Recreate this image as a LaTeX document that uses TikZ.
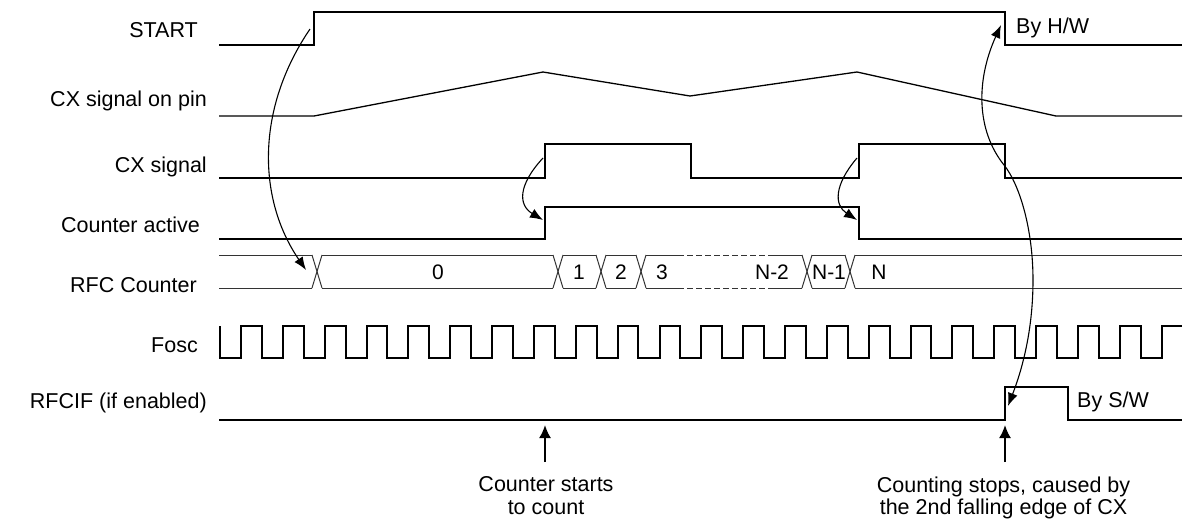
\documentclass[tikz,border=0pt]{standalone}
\usepackage{fontspec}
\setmainfont{Liberation Sans}
\usetikzlibrary{arrows.meta}
\begin{document}
\begin{tikzpicture}[x=1pt,y=-1pt,
  sig/.style={line width=2.2pt, line join=miter},
  pin/.style={line width=1.3pt},
  clk/.style={line width=2pt, line join=miter},
  bus/.style={line width=1pt, black!80},
  busdash/.style={bus, dash pattern=on 6pt off 3pt},
  curvearrow/.style={line width=1.1pt, -{Latex[length=13pt,width=10pt]}},
  dblarrow/.style={line width=1.1pt, {Latex[length=13pt,width=10pt]}-{Latex[length=13pt,width=10pt]}},
  uparrow/.style={line width=2pt, -{Latex[length=13pt,width=12pt]}},
  lbl/.style={anchor=base east, inner sep=0pt, font=\fontsize{21.5}{24}\selectfont},
  txt/.style={anchor=base west, inner sep=0pt, font=\fontsize{21.5}{24}\selectfont},
  ctxt/.style={anchor=base, inner sep=0pt, font=\fontsize{21.5}{24}\selectfont},
  val/.style={anchor=base, inner sep=0pt, font=\fontsize{21}{24}\selectfont}
]
\useasboundingbox (0,0) rectangle (1183,520);

% ---- labels ----
\node[lbl] (lstart) at (198,37) {START};
\node[lbl] (lpin) at (207,106) {CX signal on pin};
\node[lbl] (lcx) at (207,172) {CX signal};
\node[lbl] (lact) at (200,232) {Counter active};
\node[lbl] (lrfc) at (197,292) {RFC Counter};
\node[lbl] (lfosc) at (198,352) {Fosc};
\node[lbl] (lif) at (207,408) {RFCIF (if enabled)};

% ---- START ----
\draw[sig] (219,45) -- (314,45) -- (314,12) -- (1005,12) -- (1005,45) -- (1182,45);
\node[txt] (hw) at (1016,33) {By H/W};

% ---- CX signal on pin ----
\draw[pin] (219,116) -- (314,116) -- (543,72) -- (690,96) -- (857,72) -- (1056,116) -- (1182,116);

% ---- CX signal ----
\draw[sig] (219,178) -- (545,178) -- (545,144) -- (691,144) -- (691,178) -- (859,178) -- (859,144) -- (1005,144) -- (1005,178) -- (1182,178);

% ---- Counter active ----
\draw[sig] (219,239) -- (545,239) -- (545,207) -- (859,207) -- (859,239) -- (1182,239);

% ---- RFC Counter bus ----
\foreach \c in {317,558,601,641,807,850}{
  \draw[bus] (\c-5,255) -- (\c+5,288);
  \draw[bus] (\c-5,288) -- (\c+5,255);
}
\foreach \y in {255,288}{
  \draw[bus] (219,\y) -- (312,\y);
  \draw[bus] (322,\y) -- (553,\y);
  \draw[bus] (563,\y) -- (596,\y);
  \draw[bus] (606,\y) -- (636,\y);
  \draw[bus] (646,\y) -- (678,\y);
  \draw[busdash] (678,\y) -- (770,\y);
  \draw[bus] (770,\y) -- (802,\y);
  \draw[bus] (812,\y) -- (845,\y);
  \draw[bus] (855,\y) -- (1182,\y);
}
\node[val] (v0) at (438,279) {0};
\node[val] (v1) at (579,279) {1};
\node[val] (v2) at (621,279) {2};
\node[val] (v3) at (662,279) {3};
\node[val] (vn2) at (772,279) {N-2};
\node[val] (vn1) at (829,279) {N-1};
\node[val] (vn) at (879,279) {N};

% ---- Fosc ----
\draw[clk] (220,326) -- (220,358)
  \foreach \k in {0,...,21}{ -- ({241+41.85*\k},358) -- ({241+41.85*\k},326) -- ({261.8+41.85*\k},326) -- ({261.8+41.85*\k},358) }
  -- (1161.7,358) -- (1161.7,326) -- (1182,326);

% ---- RFCIF ----
\draw[sig] (219,420) -- (1005,420) -- (1005,387) -- (1068,387) -- (1068,420) -- (1182,420);
\node[txt] (sw) at (1077,407) {By S/W};

% ---- causal arrows ----
\coordinate (a1s) at (310,29);
\coordinate (a1e) at (306,270);
\draw[curvearrow] (a1s) .. controls (255,110) and (258,200) .. (a1e);

\coordinate (a2s) at (543,158);
\coordinate (a2e) at (543,220);
\draw[curvearrow] (a2s) .. controls (518,185) and (518,205) .. (a2e);

\coordinate (a3s) at (857,158);
\coordinate (a3e) at (857,220);
\draw[curvearrow] (a3s) .. controls (834,185) and (834,205) .. (a3e);

\coordinate (a4top) at (1001,25);
\coordinate (a4mid) at (1004,165);
\coordinate (a4bend) at (1033,280);
\coordinate (a4bot) at (1008,406);
\draw[dblarrow] (a4top) .. controls (976,80) and (976,130) .. (a4mid)
  .. controls (1020,185) and (1033,230) .. (a4bend)
  .. controls (1033,335) and (1020,375) .. (a4bot);

% ---- bottom annotations ----
\coordinate (b1s) at (545,462);
\coordinate (b1e) at (545,425);
\draw[uparrow] (b1s) -- (b1e);
\node[ctxt] (t1a) at (546,491) {Counter starts};
\node[ctxt] (t1b) at (546,514) {to count};

\coordinate (b2s) at (1005,462);
\coordinate (b2e) at (1005,425);
\draw[uparrow] (b2s) -- (b2e);
\node[ctxt] (t2a) at (1003.5,492) {Counting stops, caused by};
\node[ctxt] (t2b) at (1003.5,514) {the 2nd falling edge of CX};
\end{tikzpicture}
\end{document}
